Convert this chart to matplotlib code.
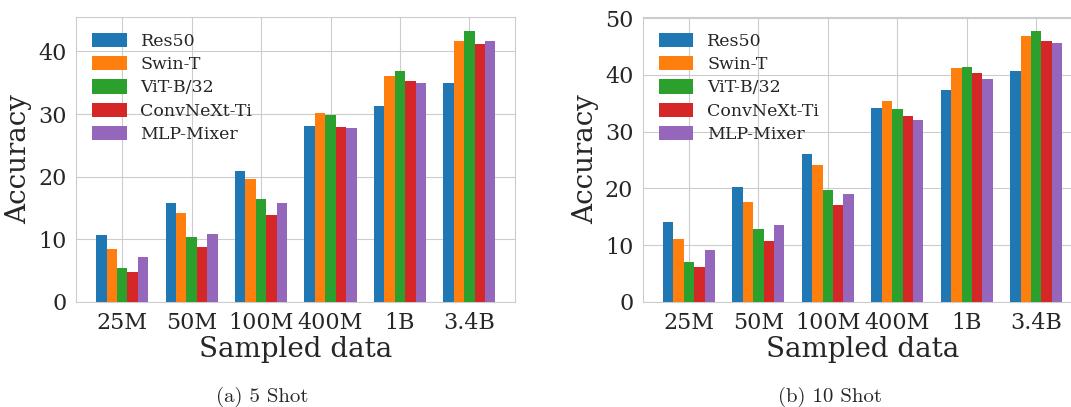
import matplotlib
matplotlib.use('Agg')
import matplotlib.pyplot as plt
import numpy as np
import seaborn as sns

sns.set_style('whitegrid')
plt.rcParams['font.family'] = ['DejaVu Serif']

data_sizes = ['25M', '50M', '100M', '400M', '1B', '3.4B']
models = ['Res50', 'Swin-T', 'ViT-B/32', 'ConvNeXt-Ti', 'MLP-Mixer']

# accuracy, 5 shot
acc_5shot = {
    'Res50':       [10.7, 15.8, 20.9, 28.1, 31.2, 35.0],
    'Swin-T':      [8.4, 14.2, 19.6, 30.2, 36.1, 41.7],
    'ViT-B/32':    [5.4, 10.4, 16.4, 29.9, 36.8, 43.3],
    'ConvNeXt-Ti': [4.8, 8.8, 13.9, 28.0, 35.3, 41.1],
    'MLP-Mixer':   [7.2, 10.8, 15.8, 27.8, 35.0, 41.6],
}
# accuracy, 10 shot
acc_10shot = {
    'Res50':       [14.1, 20.2, 26.1, 34.2, 37.4, 40.7],
    'Swin-T':      [11.1, 17.6, 24.1, 35.4, 41.2, 46.9],
    'ViT-B/32':    [7.0, 12.8, 19.7, 34.0, 41.4, 47.8],
    'ConvNeXt-Ti': [6.1, 10.7, 17.1, 32.8, 40.4, 46.0],
    'MLP-Mixer':   [9.1, 13.5, 19.0, 32.1, 39.3, 45.7],
}

colors = ['#1f77b4', '#ff7f0e', '#2ca02c', '#d62728', '#9467bd']
captions = ['(a) 5 Shot', '(b) 10 Shot']

fig = plt.figure(figsize=(10.71, 4.07), dpi=100)
ax1 = fig.add_axes([0.0712, 0.258, 0.410, 0.700])
ax2 = fig.add_axes([0.6004, 0.258, 0.410, 0.700])

x = np.arange(len(data_sizes))
w = 0.15

for ax, acc in zip([ax1, ax2], [acc_5shot, acc_10shot]):
    for i, m in enumerate(models):
        ax.bar(x + (i - 2) * w, acc[m], w, color=colors[i], label=m,
               linewidth=0, zorder=3)
    ax.set_xticks(x)
    ax.set_xticklabels(data_sizes, fontsize=16)
    ax.tick_params(axis='y', labelsize=16)
    ax.set_xlabel('Sampled data', fontsize=20, labelpad=2)
    ax.set_ylabel('Accuracy', fontsize=20)
    ax.legend(loc='upper left', fontsize=12.5, frameon=False,
              handleheight=0.9, handlelength=2.0, labelspacing=0.35)
    ax.set_axisbelow(True)

fig.text(0.245, 0.025, captions[0], fontsize=15, family='cmr10', ha='center', va='center')
fig.text(0.775, 0.025, captions[1], fontsize=15, family='cmr10', ha='center', va='center')

fig.savefig('out.png', dpi=100)
